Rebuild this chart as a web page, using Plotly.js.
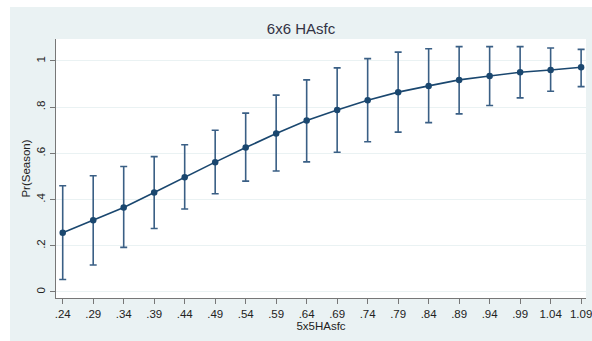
<!DOCTYPE html>
<html>
<head>
<meta charset="utf-8">
<script src="https://cdn.plot.ly/plotly-3.0.1.min.js"></script>
<style>
  html, body { margin: 0; padding: 0; background: #ffffff; width: 592px; height: 341px; overflow: hidden; }
  #chart { position: absolute; left: 10px; top: 7px; width: 582px; height: 334px; }
</style>
</head>
<body>
<div id="chart"></div>
<script>
// Predicted probability of Season across 5x5HAsfc, with 95% confidence limits
const hasfc5 = [0.24, 0.29, 0.34, 0.39, 0.44, 0.49, 0.54, 0.59, 0.64, 0.69, 0.74, 0.79, 0.84, 0.89, 0.94, 0.99, 1.04, 1.09];
const tickText = ['.24', '.29', '.34', '.39', '.44', '.49', '.54', '.59', '.64', '.69', '.74', '.79', '.84', '.89', '.94', '.99', '1.04', '1.09'];
const prSeason = [0.256, 0.310, 0.366, 0.431, 0.497, 0.562, 0.625, 0.686, 0.742, 0.788, 0.830, 0.865, 0.892, 0.918, 0.935, 0.951, 0.961, 0.973];
const ciUpper  = [0.460, 0.503, 0.543, 0.586, 0.637, 0.700, 0.774, 0.852, 0.918, 0.970, 1.010, 1.038, 1.053, 1.062, 1.062, 1.062, 1.056, 1.050];
const ciLower  = [0.054, 0.117, 0.193, 0.275, 0.359, 0.425, 0.480, 0.524, 0.563, 0.605, 0.650, 0.692, 0.733, 0.771, 0.807, 0.840, 0.869, 0.889];
const yTickVals = [0, 0.2, 0.4, 0.6, 0.8, 1];
const yTickText = ['0', '.2', '.4', '.6', '.8', '1'];

const errPlus = ciUpper.map((u, i) => u - prSeason[i]);
const errMinus = prSeason.map((p, i) => p - ciLower[i]);

const navy = '#1a476f';
const font = 'Liberation Sans, Arial, sans-serif';

const trace = {
  x: hasfc5,
  y: prSeason,
  type: 'scatter',
  mode: 'lines+markers',
  line: { color: navy, width: 1.6 },
  marker: { color: navy, size: 6.5 },
  error_y: {
    type: 'data',
    symmetric: false,
    array: errPlus,
    arrayminus: errMinus,
    color: '#3a5f85',
    thickness: 1.6,
    width: 3.5
  },
  hoverinfo: 'x+y'
};

const layout = {
  width: 582,
  height: 334,
  paper_bgcolor: '#eaf2f3',
  plot_bgcolor: '#ffffff',
  margin: { l: 46, r: 6, t: 32, b: 43 },
  showlegend: false,
  font: { family: font, color: '#222222', size: 11 },
  title: {
    text: '6x6 HAsfc',
    x: 0.5, xref: 'container', xanchor: 'center',
    y: 0.935, yref: 'container', yanchor: 'middle',
    font: { family: font, size: 15, color: '#333344' }
  },
  xaxis: {
    range: [0.229, 1.098],
    tickmode: 'array',
    tickvals: hasfc5,
    ticktext: tickText,
    ticklabeloverflow: 'allow',
    ticks: 'outside', ticklen: 5, tickwidth: 1, tickcolor: '#777777',
    showline: true, linecolor: '#777777', linewidth: 1,
    showgrid: false, zeroline: false,
    tickfont: { family: font, size: 11.5, color: '#222222' },
    title: { text: '5x5HAsfc', standoff: 2, font: { family: font, size: 11.5, color: '#222222' } }
  },
  yaxis: {
    range: [-0.026, 1.095],
    tickmode: 'array',
    tickvals: yTickVals,
    ticktext: yTickText,
    tickangle: -90,
    ticks: 'outside', ticklen: 5, tickwidth: 1, tickcolor: '#777777',
    showline: true, linecolor: '#777777', linewidth: 1,
    showgrid: true, gridcolor: '#eaf2f3', gridwidth: 1,
    zeroline: false,
    tickfont: { family: font, size: 11.5, color: '#222222' },
    title: { text: 'Pr(Season)', standoff: 2, font: { family: font, size: 11.5, color: '#222222' } }
  }
};

Plotly.newPlot('chart', [trace], layout, { displayModeBar: false, staticPlot: true });
</script>
</body>
</html>
